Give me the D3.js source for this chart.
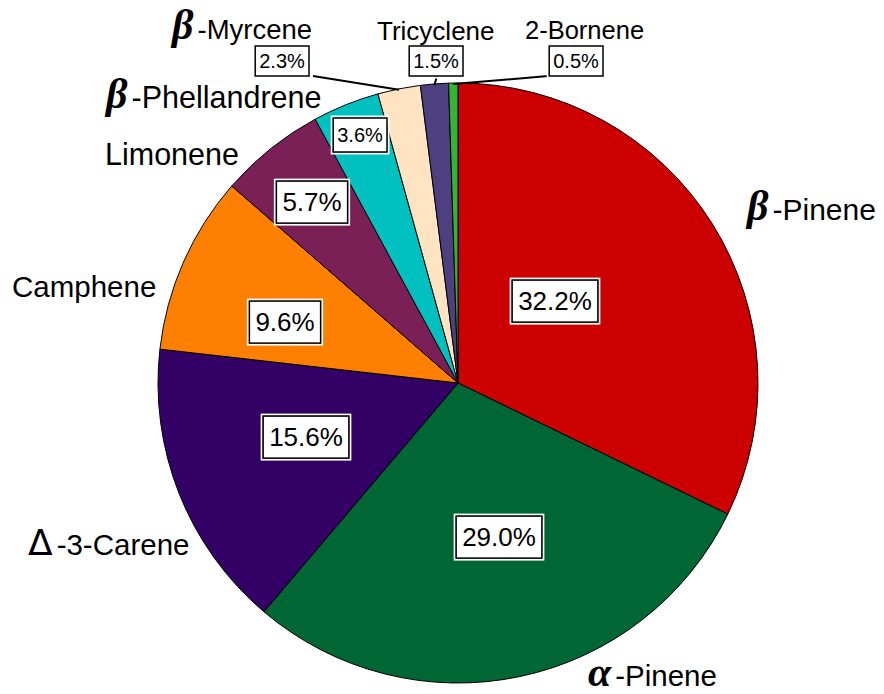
<!DOCTYPE html>
<html>
<head>
  <meta charset="utf-8">
  <title>Terpene composition - Pie Chart</title>
  <script src="https://d3js.org/d3.v7.min.js"></script>
  <style>
    body { margin: 0; background: #fff; }
    svg { display: block; }
    text { font-family: Arial, 'Liberation Sans', sans-serif; fill: #000; }
    .greek { font-family: 'Liberation Serif', 'DejaVu Serif', serif; font-style: italic; font-weight: bold; }
    .delta { font-family: 'DejaVu Sans', sans-serif; font-style: normal; font-weight: normal; }
  </style>
</head>
<body>
  <svg width="884" height="694"></svg>
  <script>
    // data, clockwise from 12 o'clock
    var greek = ["\u03B2", "\u03B1", "\u0394", "", "", "\u03B2", "\u03B2", "", ""];
    var names = ["-Pinene", "-Pinene", "-3-Carene", "Camphene", "Limonene", "-Phellandrene", "-Myrcene", "Tricyclene", "2-Bornene"];
    var percents = [32.2, 29.0, 15.6, 9.6, 5.7, 3.6, 2.3, 1.5, 0.5];
    var colors = ["#cc0000", "#006633", "#330066", "#ff8000", "#7b1f57", "#00c0c0", "#ffe4c4", "#4d3f80", "#33b533"];

    // label layout (pixel positions in the picture)
    var nameXY = [[747, 220], [588, 686], [28, 555], [12, 297], [105, 165], [106, 108], [172, 39], [377, 40], [525, 39]];
    var nameSize = [30, 29.5, 29.5, 29.5, 30.5, 30.5, 27.5, 26, 25.5];
    var boxXY = [[555, 301], [499, 537], [306, 437], [285, 322], [312, 202], [360, 135], [282, 61], [436, 61], [576, 61]];
    var small = [false, false, false, false, false, true, true, true, true];
    var leader = [false, false, false, false, false, false, true, true, true];

    var cx = 458, cy = 383, r = 300;
    var svg = d3.select("svg");
    var g = svg.append("g").attr("transform", "translate(" + cx + "," + cy + ")");

    var pie = d3.pie().value(d => d).sort(null);
    var arc = d3.arc().innerRadius(0).outerRadius(r);
    var arcs = pie(percents);

    g.selectAll("path.slice")
      .data(arcs)
      .enter()
      .append("path")
      .attr("class", "slice")
      .attr("d", arc)
      .style("fill", (d, i) => colors[i])
      .style("stroke", "#000")
      .style("stroke-width", "1px");

    // leader lines for small slices
    var edge = d3.arc().innerRadius(r).outerRadius(r);
    arcs.forEach(function (d, i) {
      if (!leader[i]) return;
      var p = edge.centroid(d);
      var b = boxXY[i];
      var sx = i == 6 ? b[0] + 31 : (i == 7 ? b[0] + 1 : b[0] - 28);
      svg.append("line")
        .attr("x1", sx).attr("y1", b[1] + 15)
        .attr("x2", cx + p[0]).attr("y2", cy + p[1] + 1)
        .style("stroke", "#000")
        .style("stroke-width", "2px");
    });

    // percentage boxes
    percents.forEach(function (v, i) {
      var fs = small[i] ? 20 : 26;
      var lg = svg.append("g").attr("transform", "translate(" + boxXY[i][0] + "," + boxXY[i][1] + ")");
      var t = lg.append("text")
        .attr("text-anchor", "middle")
        .attr("dy", "0.35em")
        .style("font-size", fs + "px")
        .text(v.toFixed(1) + "%");
      var bb = t.node().getBBox();
      var padX = small[i] ? 4 : 6, padY = small[i] ? 4 : 6;
      if (i == 5) padY = 6;
      lg.insert("rect", "text")
        .attr("x", bb.x - padX - 1.5).attr("y", bb.y - padY - 1.5)
        .attr("width", bb.width + 2 * padX + 3).attr("height", bb.height + 2 * padY + 3)
        .style("fill", "none").style("stroke", "#fff").style("stroke-width", "2px");
      lg.insert("rect", "text")
        .attr("x", bb.x - padX).attr("y", bb.y - padY)
        .attr("width", bb.width + 2 * padX).attr("height", bb.height + 2 * padY)
        .style("fill", "#fff").style("stroke", "#000").style("stroke-width", "1.5px");
    });

    // category names
    names.forEach(function (n, i) {
      var t = svg.append("text")
        .attr("x", nameXY[i][0]).attr("y", nameXY[i][1])
        .style("font-size", nameSize[i] + "px");
      if (greek[i]) {
        var isDelta = greek[i] == "\u0394";
        t.append("tspan")
          .attr("class", isDelta ? "delta" : "greek")
          .style("font-size", isDelta ? "36px" : "42px")
          .text(greek[i]);
        t.append("tspan").attr("dx", 4).text(n);
      } else {
        t.text(n);
      }
    });
  </script>
</body>
</html>
